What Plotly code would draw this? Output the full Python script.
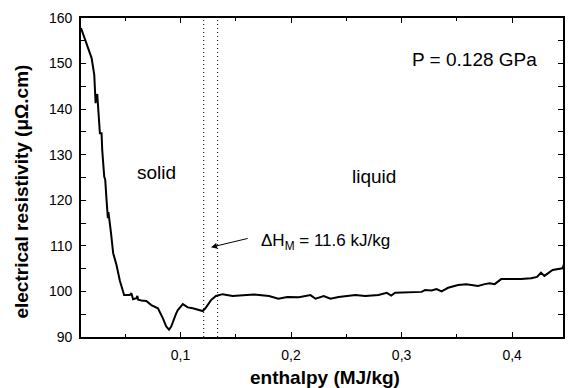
import plotly.graph_objects as go

# Enthalpy (MJ/kg) and electrical resistivity (µΩ·cm) along the heating run
enthalpy = [
    0.0100, 0.0151, 0.0196, 0.0220, 0.0232, 0.0235, 0.0247, 0.0253, 0.0271, 0.0286,
    0.0292, 0.0310, 0.0319, 0.0331, 0.0337, 0.0343, 0.0348, 0.0361, 0.0370, 0.0391,
    0.0421, 0.0451, 0.0490, 0.0541, 0.0556, 0.0571, 0.0601, 0.0610, 0.0617, 0.0646,
    0.0691, 0.0736, 0.0796, 0.0841, 0.0871, 0.0896, 0.0916, 0.0961, 0.0976, 0.1021,
    0.1066, 0.1111, 0.1171, 0.1201, 0.1225, 0.1276, 0.1321, 0.1351, 0.1381, 0.1471,
    0.1561, 0.1666, 0.1801, 0.1885, 0.1966, 0.2071, 0.2176, 0.2221, 0.2296, 0.2356,
    0.2431, 0.2506, 0.2581, 0.2671, 0.2791, 0.2866, 0.2906, 0.2942, 0.3091, 0.3181,
    0.3212, 0.3271, 0.3316, 0.3361, 0.3421, 0.3511, 0.3586, 0.3691, 0.3752, 0.3797,
    0.3842, 0.3901, 0.3991, 0.4081, 0.4171, 0.4225, 0.4261, 0.4292, 0.4366, 0.4427,
    0.4456, 0.4472,
]
resistivity = [
    157.8, 154.4, 151.2, 147.5, 141.3, 142.7, 143.3, 140.5, 134.7, 134.7,
    131.0, 125.2, 124.5, 120.1, 117.9, 116.1, 117.4, 113.8, 113.1, 108.4,
    105.8, 102.4, 99.2, 99.2, 99.6, 98.3, 98.5, 99.0, 98.2, 98.0,
    97.9, 97.0, 96.3, 94.1, 92.3, 91.6, 92.3, 95.2, 95.9, 97.2,
    96.5, 96.3, 96.0, 95.7, 96.3, 98.1, 99.0, 99.2, 99.4, 99.0,
    99.2, 99.3, 99.0, 98.4, 98.8, 98.7, 99.2, 98.4, 99.0, 98.4,
    98.8, 99.0, 99.2, 99.0, 99.2, 99.7, 99.1, 99.7, 99.9, 99.9,
    100.3, 100.2, 100.5, 100.0, 100.8, 101.4, 101.6, 101.2, 101.6, 101.8,
    101.6, 102.7, 102.7, 102.7, 102.9, 103.2, 104.1, 103.4, 104.7, 104.9,
    105.1, 106.2,
]

# Melting interval bounds (MJ/kg)
melt_bounds = [0.121, 0.1336]

x_tickvals = [0.1, 0.2, 0.3, 0.4]
x_ticktext = ["0,1", "0,2", "0,3", "0,4"]
y_tickvals = [90, 100, 110, 120, 130, 140, 150, 160]

FONT = "Liberation Sans, Arial, sans-serif"

fig = go.Figure()
fig.add_trace(go.Scatter(
    x=enthalpy, y=resistivity, mode="lines",
    line=dict(color="black", width=2),
    showlegend=False, hoverinfo="skip",
))

for xb in melt_bounds:
    fig.add_shape(type="line", xref="x", yref="paper", x0=xb, x1=xb, y0=0, y1=1,
                  line=dict(color="black", width=1, dash="1px,3px"))

axis_common = dict(
    showline=True, linecolor="black", linewidth=1.6, mirror="allticks",
    ticks="inside", ticklen=5, tickwidth=1.2, tickcolor="black",
    showgrid=False, zeroline=False,
    tickfont=dict(family=FONT, size=14, color="black"),
)

fig.update_xaxes(
    range=[0.01, 0.446], tickvals=x_tickvals, ticktext=x_ticktext,
    minor=dict(ticks="inside", ticklen=3, tickwidth=1.2, tickcolor="black",
               tickvals=[0.05, 0.15, 0.25, 0.35, 0.45]),
    ticklabelstandoff=4,
    **axis_common,
)
fig.update_yaxes(
    range=[90, 160], tickvals=y_tickvals,
    minor=dict(ticks="inside", ticklen=5, tickwidth=1.2, tickcolor="black", dtick=5),
    ticklabelstandoff=4,
    **axis_common,
)

label_font = dict(family=FONT, size=19, color="black")
fig.add_annotation(x=0.0784, y=126.0, text="solid", showarrow=False, font=label_font)
fig.add_annotation(x=0.2746, y=125.3, text="liquid", showarrow=False, font=label_font)
fig.add_annotation(x=0.3655, y=151.0, text="P = 0.128 GPa", showarrow=False,
                   font=label_font)

# Latent heat of melting with its pointer
fig.add_annotation(x=0.1276, y=109.7, ax=0.1621, ay=111.7, axref="x", ayref="y",
                   xref="x", yref="y", text="", showarrow=True,
                   arrowhead=2, arrowsize=1.2, arrowwidth=1, arrowcolor="black")
fig.add_annotation(x=0.1711, y=110.9, xanchor="left", yanchor="middle",
                   text="ΔH<sub>M</sub> = 11.6 kJ/kg", showarrow=False,
                   font=dict(family=FONT, size=17, color="black"))

# Axis titles
title_font = dict(family=FONT, size=19, color="black")
fig.add_annotation(xref="paper", yref="paper", x=0.5065, y=-0.128,
                   text="<b>enthalpy (MJ/kg)</b>", showarrow=False, font=title_font,
                   yanchor="middle")
fig.add_annotation(xref="paper", yref="paper", x=-0.123, y=0.455,
                   text="<b>electrical resistivity (μΩ.cm)</b>", showarrow=False,
                   textangle=-90, font=title_font, xanchor="center")

fig.update_layout(
    width=570, height=388,
    margin=dict(l=81, r=5, t=18, b=51),
    paper_bgcolor="white", plot_bgcolor="white",
)

fig.write_html("out.html")
